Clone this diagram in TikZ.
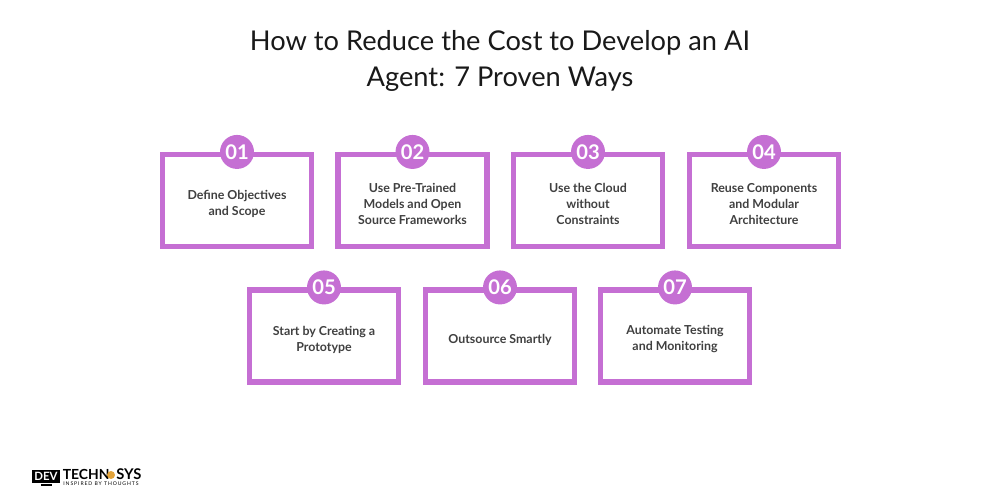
\documentclass[tikz,border=0pt]{standalone}
\usepackage{fontspec}
\setmainfont{Lato}
\usepackage{xcolor}
\definecolor{boxpurple}{HTML}{C56FD3}
\definecolor{logoamber}{HTML}{E2A33A}
\tikzset{
  stepbox/.style={draw=boxpurple, line width=2.9pt, fill=white, minimum width=2.98cm, minimum height=1.84cm, inner sep=0pt},
  steptext/.style={align=center, font=\fontsize{7.05}{9.1}\selectfont\bfseries, text=black!75, inner sep=0pt},
  stepnum/.style={circle, fill=boxpurple, minimum size=0.68cm, inner sep=0pt, text=white, font=\fontsize{11.5}{11.5}\selectfont\bfseries},
  logotext/.style={inner sep=0pt, anchor=base west, text=black}
}
\begin{document}
\begin{tikzpicture}
    \useasboundingbox (0,0) rectangle (20,10);

    \node[font=\fontsize{15.5}{20.4}\selectfont, align=center, text=black!90] (title) at (10,8.78) {How to Reduce the Cost to Develop an AI\\Agent: 7 Proven Ways};

    \foreach \n/\x/\y/\txt in {
        1/4.74/5.99/{Define Objectives\\and Scope},
        2/8.25/5.99/{Use Pre-Trained\\Models and Open\\Source Frameworks},
        3/11.76/5.99/{Use the Cloud\\without\\Constraints},
        4/15.28/5.99/{Reuse Components\\and Modular\\Architecture},
        5/6.48/3.28/{Start by Creating a\\Prototype},
        6/10/3.28/{Outsource Smartly},
        7/13.5/3.28/{Automate Testing\\and Monitoring}}
    {
        \node[stepbox] (box\n) at (\x,\y) {};
        \node[steptext] (text\n) at (\x,\y-0.07) {\txt};
        \node[stepnum] (num\n) at (box\n.north) {0\n};
    }

    % logo
    \node[fill=black, minimum width=0.56cm, minimum height=0.27cm, inner sep=0pt, text=white, font=\fontsize{6.5}{6.5}\selectfont\bfseries] (logobox) at (0.92,0.47) {DEV};
    \node[fill=black, minimum width=0.22cm, minimum height=0.04cm, inner sep=0pt] (logostand) at (0.92,0.29) {};
    \node[logotext, font=\fontsize{7.9}{7.9}\selectfont\bfseries] (logoname) at (1.25,0.4) {TECHN};
    \node[circle, fill=logoamber, minimum size=0.16cm, inner sep=0pt] (logodot) at (2.22,0.5) {};
    \node[logotext, font=\fontsize{8.4}{8.4}\selectfont\bfseries] (logoend) at (2.32,0.4) {SYS};
    \node[logotext, font=\fontsize{2.9}{2.9}\selectfont\addfontfeature{LetterSpace=18}] (logotag) at (1.26,0.28) {INSPIRED BY THOUGHTS};
\end{tikzpicture}
\end{document}
